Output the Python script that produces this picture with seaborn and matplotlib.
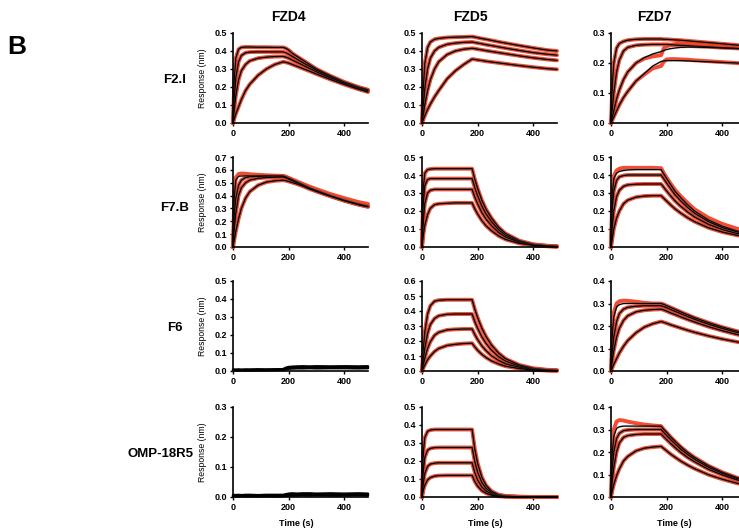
import matplotlib
matplotlib.use("Agg")
import matplotlib.pyplot as plt
import matplotlib.ticker as mticker
import seaborn as sns

# time grid (s) shared by every trace
T = [0, 5, 10, 20, 30, 45, 60, 90, 120, 150, 180, 190, 200, 215, 230, 250, 275, 300, 350, 400, 450, 485]

antibodies = ["F2.I", "F7.B", "F6", "OMP-18R5"]
receptors = ["FZD4", "FZD5", "FZD7"]
y_max = [[0.5, 0.5, 0.3], [0.7, 0.5, 0.5], [0.5, 0.6, 0.4], [0.3, 0.5, 0.4]]

# fitted curves (black), one list per concentration
fzd4_f2i = [
    [0, 0.25, 0.36, 0.41, 0.42, 0.422, 0.422, 0.421, 0.421, 0.42, 0.42, 0.415, 0.405, 0.385, 0.37, 0.35, 0.325, 0.30, 0.262, 0.228, 0.200, 0.185],
    [0, 0.14, 0.25, 0.34, 0.375, 0.39, 0.394, 0.395, 0.395, 0.395, 0.395, 0.39, 0.382, 0.368, 0.354, 0.336, 0.315, 0.293, 0.257, 0.224, 0.197, 0.182],
    [0, 0.08, 0.15, 0.24, 0.29, 0.325, 0.345, 0.36, 0.366, 0.369, 0.37, 0.366, 0.36, 0.348, 0.337, 0.322, 0.303, 0.284, 0.25, 0.22, 0.193, 0.178],
    [0, 0.025, 0.05, 0.09, 0.13, 0.18, 0.215, 0.265, 0.30, 0.325, 0.34, 0.337, 0.333, 0.324, 0.315, 0.303, 0.288, 0.272, 0.242, 0.214, 0.188, 0.172],
]
fzd5_f2i = [
    [0, 0.2, 0.33, 0.42, 0.45, 0.465, 0.47, 0.475, 0.477, 0.478, 0.48, 0.477, 0.474, 0.469, 0.465, 0.459, 0.451, 0.444, 0.43, 0.417, 0.405, 0.40],
    [0, 0.1, 0.19, 0.3, 0.36, 0.4, 0.42, 0.437, 0.444, 0.448, 0.45, 0.447, 0.444, 0.44, 0.435, 0.43, 0.423, 0.416, 0.403, 0.391, 0.382, 0.377],
    [0, 0.05, 0.1, 0.18, 0.24, 0.3, 0.34, 0.38, 0.4, 0.41, 0.415, 0.413, 0.41, 0.406, 0.402, 0.397, 0.391, 0.385, 0.373, 0.362, 0.353, 0.348],
    [0, 0.02, 0.04, 0.075, 0.105, 0.145, 0.18, 0.245, 0.29, 0.325, 0.355, 0.353, 0.35, 0.347, 0.343, 0.339, 0.334, 0.329, 0.319, 0.31, 0.302, 0.298],
]
fzd7_f2i = [
    [0, 0.13, 0.2, 0.25, 0.265, 0.272, 0.276, 0.279, 0.28, 0.28, 0.28, 0.279, 0.279, 0.278, 0.277, 0.276, 0.274, 0.272, 0.268, 0.264, 0.26, 0.257],
    [0, 0.05, 0.1, 0.17, 0.21, 0.24, 0.252, 0.259, 0.261, 0.262, 0.262, 0.262, 0.262, 0.261, 0.26, 0.259, 0.258, 0.256, 0.254, 0.251, 0.249, 0.247],
    [0, 0.02, 0.04, 0.08, 0.11, 0.145, 0.17, 0.2, 0.218, 0.23, 0.238, 0.242, 0.245, 0.248, 0.25, 0.252, 0.253, 0.253, 0.252, 0.25, 0.248, 0.246],
    [0, 0.01, 0.02, 0.04, 0.06, 0.085, 0.105, 0.14, 0.165, 0.19, 0.205, 0.207, 0.208, 0.208, 0.208, 0.208, 0.207, 0.206, 0.204, 0.202, 0.2, 0.199],
]
fzd7_f2i_red3 = [0, 0.02, 0.04, 0.08, 0.11, 0.145, 0.17, 0.2, 0.215, 0.222, 0.226, 0.25, 0.256, 0.26, 0.263, 0.265, 0.265, 0.264, 0.261, 0.257, 0.253, 0.25]
fzd7_f2i_red4 = [0, 0.01, 0.02, 0.04, 0.06, 0.085, 0.105, 0.14, 0.162, 0.182, 0.19, 0.205, 0.212, 0.213, 0.213, 0.212, 0.211, 0.209, 0.206, 0.203, 0.2, 0.197]

fzd4_f7b = [
    [0, 0.4, 0.52, 0.55, 0.552, 0.553, 0.553, 0.553, 0.553, 0.552, 0.552, 0.545, 0.535, 0.52, 0.505, 0.485, 0.46, 0.44, 0.4, 0.365, 0.335, 0.318],
    [0, 0.25, 0.38, 0.48, 0.52, 0.54, 0.547, 0.55, 0.551, 0.551, 0.551, 0.544, 0.534, 0.519, 0.504, 0.484, 0.459, 0.438, 0.398, 0.363, 0.333, 0.316],
    [0, 0.15, 0.26, 0.4, 0.46, 0.5, 0.52, 0.535, 0.54, 0.543, 0.545, 0.538, 0.528, 0.514, 0.5, 0.48, 0.456, 0.435, 0.396, 0.361, 0.331, 0.314],
    [0, 0.06, 0.12, 0.22, 0.3, 0.38, 0.43, 0.48, 0.505, 0.515, 0.52, 0.516, 0.51, 0.5, 0.49, 0.474, 0.452, 0.432, 0.395, 0.36, 0.33, 0.313],
]
fzd4_f7b_red1 = [0, 0.42, 0.54, 0.568, 0.572, 0.57, 0.566, 0.562, 0.558, 0.555, 0.553, 0.547, 0.538, 0.524, 0.51, 0.492, 0.47, 0.45, 0.412, 0.38, 0.35, 0.335]
fzd5_f7b = [
    [0, 0.33, 0.41, 0.43, 0.433, 0.435, 0.435, 0.435, 0.435, 0.435, 0.435, 0.375, 0.325, 0.26, 0.21, 0.16, 0.11, 0.075, 0.035, 0.015, 0.007, 0.004],
    [0, 0.25, 0.34, 0.375, 0.38, 0.38, 0.38, 0.38, 0.38, 0.38, 0.38, 0.328, 0.284, 0.227, 0.184, 0.14, 0.096, 0.065, 0.03, 0.013, 0.006, 0.003],
    [0, 0.15, 0.24, 0.3, 0.315, 0.32, 0.32, 0.32, 0.32, 0.32, 0.32, 0.276, 0.239, 0.191, 0.155, 0.118, 0.081, 0.055, 0.026, 0.011, 0.005, 0.003],
    [0, 0.07, 0.12, 0.18, 0.215, 0.235, 0.24, 0.243, 0.245, 0.245, 0.245, 0.211, 0.183, 0.147, 0.118, 0.09, 0.062, 0.042, 0.02, 0.009, 0.004, 0.002],
]
fzd7_f7b = [
    [0, 0.3, 0.38, 0.41, 0.42, 0.425, 0.428, 0.43, 0.43, 0.43, 0.43, 0.405, 0.38, 0.345, 0.31, 0.275, 0.235, 0.2, 0.15, 0.115, 0.09, 0.077],
    [0, 0.22, 0.31, 0.37, 0.39, 0.397, 0.4, 0.4, 0.4, 0.4, 0.4, 0.378, 0.355, 0.322, 0.29, 0.257, 0.22, 0.188, 0.141, 0.108, 0.085, 0.072],
    [0, 0.12, 0.2, 0.28, 0.315, 0.337, 0.345, 0.349, 0.35, 0.35, 0.35, 0.331, 0.311, 0.283, 0.256, 0.227, 0.195, 0.167, 0.126, 0.097, 0.076, 0.065],
    [0, 0.05, 0.1, 0.16, 0.2, 0.24, 0.26, 0.277, 0.283, 0.285, 0.285, 0.27, 0.255, 0.233, 0.212, 0.189, 0.163, 0.141, 0.107, 0.083, 0.066, 0.057],
]
fzd7_f7b_red1 = [0, 0.31, 0.395, 0.425, 0.435, 0.44, 0.44, 0.44, 0.44, 0.44, 0.438, 0.41, 0.385, 0.35, 0.318, 0.283, 0.245, 0.21, 0.162, 0.128, 0.103, 0.09]

fzd4_f6_noise = [
    [0.004, 0.006, 0.005, 0.006, 0.005, 0.006, 0.005, 0.007, 0.006, 0.007, 0.008, 0.014, 0.017, 0.019, 0.02, 0.021, 0.02, 0.022, 0.021, 0.022, 0.021, 0.022],
    [0.002, 0.003, 0.004, 0.003, 0.004, 0.003, 0.004, 0.004, 0.005, 0.005, 0.006, 0.01, 0.013, 0.014, 0.015, 0.015, 0.016, 0.015, 0.016, 0.016, 0.015, 0.016],
    [0.006, 0.008, 0.007, 0.008, 0.007, 0.008, 0.008, 0.009, 0.008, 0.009, 0.01, 0.018, 0.022, 0.024, 0.025, 0.026, 0.025, 0.026, 0.025, 0.026, 0.025, 0.026],
]
fzd5_f6 = [
    [0, 0.15, 0.26, 0.38, 0.435, 0.465, 0.472, 0.475, 0.475, 0.475, 0.475, 0.41, 0.355, 0.285, 0.23, 0.172, 0.12, 0.082, 0.04, 0.018, 0.008, 0.005],
    [0, 0.08, 0.15, 0.25, 0.31, 0.35, 0.368, 0.378, 0.38, 0.38, 0.38, 0.328, 0.284, 0.228, 0.184, 0.138, 0.096, 0.066, 0.032, 0.014, 0.006, 0.004],
    [0, 0.045, 0.085, 0.15, 0.195, 0.238, 0.258, 0.274, 0.278, 0.28, 0.28, 0.242, 0.209, 0.168, 0.136, 0.101, 0.071, 0.048, 0.024, 0.011, 0.005, 0.003],
    [0, 0.02, 0.04, 0.075, 0.1, 0.13, 0.15, 0.17, 0.178, 0.183, 0.185, 0.16, 0.138, 0.111, 0.09, 0.067, 0.047, 0.032, 0.016, 0.007, 0.003, 0.002],
]
fzd7_f6 = [
    [0, 0.17, 0.24, 0.285, 0.295, 0.3, 0.3, 0.3, 0.3, 0.3, 0.3, 0.296, 0.29, 0.282, 0.274, 0.263, 0.25, 0.237, 0.215, 0.195, 0.178, 0.167],
    [0, 0.09, 0.15, 0.22, 0.255, 0.275, 0.283, 0.288, 0.29, 0.29, 0.29, 0.286, 0.281, 0.273, 0.265, 0.255, 0.242, 0.23, 0.208, 0.189, 0.172, 0.162],
    [0, 0.05, 0.09, 0.15, 0.19, 0.225, 0.245, 0.263, 0.27, 0.273, 0.275, 0.271, 0.266, 0.258, 0.251, 0.241, 0.229, 0.218, 0.197, 0.179, 0.163, 0.153],
    [0, 0.015, 0.03, 0.055, 0.08, 0.11, 0.135, 0.17, 0.195, 0.21, 0.22, 0.216, 0.212, 0.205, 0.199, 0.191, 0.181, 0.172, 0.156, 0.142, 0.13, 0.122],
]
fzd7_f6_red1 = [0, 0.18, 0.26, 0.3, 0.31, 0.313, 0.312, 0.308, 0.303, 0.3, 0.3, 0.296, 0.29, 0.282, 0.274, 0.263, 0.25, 0.237, 0.215, 0.195, 0.178, 0.167]

fzd4_omp_noise = [
    [0.004, 0.005, 0.004, 0.005, 0.004, 0.005, 0.004, 0.005, 0.004, 0.005, 0.005, 0.007, 0.008, 0.008, 0.009, 0.008, 0.009, 0.009, 0.008, 0.009, 0.008, 0.009],
    [0.002, 0.003, 0.002, 0.002, 0.003, 0.002, 0.003, 0.002, 0.003, 0.002, 0.003, 0.004, 0.005, 0.005, 0.005, 0.006, 0.005, 0.006, 0.005, 0.005, 0.006, 0.005],
    [0.006, 0.007, 0.006, 0.007, 0.006, 0.007, 0.007, 0.006, 0.007, 0.007, 0.007, 0.009, 0.011, 0.012, 0.011, 0.012, 0.012, 0.011, 0.012, 0.011, 0.012, 0.011],
]
fzd5_omp = [
    [0, 0.25, 0.33, 0.365, 0.372, 0.375, 0.375, 0.375, 0.375, 0.375, 0.375, 0.264, 0.186, 0.11, 0.065, 0.032, 0.013, 0.006, 0.001, 0, 0, 0],
    [0, 0.15, 0.22, 0.26, 0.27, 0.274, 0.275, 0.275, 0.275, 0.275, 0.275, 0.194, 0.137, 0.081, 0.048, 0.024, 0.01, 0.004, 0.001, 0, 0, 0],
    [0, 0.08, 0.13, 0.17, 0.183, 0.188, 0.19, 0.19, 0.19, 0.19, 0.19, 0.134, 0.094, 0.056, 0.033, 0.016, 0.007, 0.003, 0.001, 0, 0, 0],
    [0, 0.04, 0.065, 0.095, 0.108, 0.116, 0.119, 0.12, 0.12, 0.12, 0.12, 0.085, 0.06, 0.035, 0.021, 0.01, 0.004, 0.002, 0, 0, 0, 0],
]
fzd7_omp = [
    [0, 0.2, 0.27, 0.305, 0.312, 0.315, 0.315, 0.315, 0.315, 0.315, 0.315, 0.3, 0.287, 0.266, 0.248, 0.224, 0.198, 0.176, 0.139, 0.11, 0.087, 0.074],
    [0, 0.13, 0.2, 0.26, 0.283, 0.295, 0.298, 0.3, 0.3, 0.3, 0.3, 0.286, 0.273, 0.254, 0.236, 0.213, 0.189, 0.168, 0.132, 0.105, 0.083, 0.071],
    [0, 0.08, 0.13, 0.2, 0.24, 0.265, 0.273, 0.278, 0.28, 0.28, 0.28, 0.267, 0.255, 0.237, 0.22, 0.199, 0.176, 0.157, 0.123, 0.098, 0.077, 0.066],
    [0, 0.03, 0.055, 0.095, 0.125, 0.16, 0.18, 0.205, 0.217, 0.222, 0.225, 0.215, 0.205, 0.19, 0.177, 0.16, 0.142, 0.126, 0.099, 0.079, 0.062, 0.053],
]
fzd7_omp_red1 = [0, 0.22, 0.3, 0.335, 0.342, 0.34, 0.335, 0.328, 0.322, 0.318, 0.315, 0.3, 0.287, 0.266, 0.248, 0.224, 0.198, 0.176, 0.139, 0.11, 0.087, 0.074]

# panels[row][col] -> (fit curves, red data curves)
def with_red(fits, overrides):
    reds = list(fits)
    for k, v in overrides.items():
        reds[k] = v
    return fits, reds

panels = [
    [with_red(fzd4_f2i, {}), with_red(fzd5_f2i, {}), with_red(fzd7_f2i, {2: fzd7_f2i_red3, 3: fzd7_f2i_red4})],
    [with_red(fzd4_f7b, {0: fzd4_f7b_red1}), with_red(fzd5_f7b, {}), with_red(fzd7_f7b, {0: fzd7_f7b_red1})],
    [(fzd4_f6_noise, []), with_red(fzd5_f6, {}), with_red(fzd7_f6, {0: fzd7_f6_red1})],
    [(fzd4_omp_noise, []), with_red(fzd5_omp, {}), with_red(fzd7_omp, {0: fzd7_omp_red1})],
]

sns.set_style("ticks")
plt.rcParams['font.family'] = ['Liberation Sans', 'DejaVu Sans']
plt.rcParams['text.color'] = 'black'
plt.rcParams['axes.labelcolor'] = 'black'
plt.rcParams['xtick.color'] = 'black'
plt.rcParams['ytick.color'] = 'black'

W, H = 739, 529
fig = plt.figure(figsize=(W / 100, H / 100), dpi=100)

col_x = [233, 422, 611]
row_top = [33, 157, 281, 407]
ax_w, ax_h = 135, 90
RED = "#f2381c"

for r in range(4):
    for c in range(3):
        ax = fig.add_axes([col_x[c] / W, 1 - (row_top[r] + ax_h) / H, ax_w / W, ax_h / H])
        fits, reds = panels[r][c]
        if len(reds) == 0:
            # binding not detected: only a noisy baseline
            for tr in fits:
                sns.lineplot(x=T, y=tr, ax=ax, color="black", lw=1.8, estimator=None, sort=False)
        else:
            for tr in reds:
                sns.lineplot(x=T, y=tr, ax=ax, color=RED, lw=2.8, alpha=0.9, estimator=None, sort=False)
            for tr in fits:
                sns.lineplot(x=T, y=tr, ax=ax, color="#777777", lw=1.7, alpha=0.3, estimator=None, sort=False)
                sns.lineplot(x=T, y=tr, ax=ax, color="black", lw=0.9, estimator=None, sort=False)
        for ln in ax.lines:
            ln.set_clip_on(False)

        ax.set_xlim(0, 485)
        ax.set_ylim(0, y_max[r][c])
        ax.set_xticks([0, 200, 400])
        ax.yaxis.set_major_locator(mticker.MultipleLocator(0.1))
        ax.yaxis.set_major_formatter(mticker.FormatStrFormatter('%.1f'))
        ax.tick_params(length=2.5, width=1, pad=1.5, labelsize=6.5, color="black", labelcolor="black")
        for lab in ax.get_xticklabels() + ax.get_yticklabels():
            lab.set_fontweight("bold")
        for s in ["top", "right"]:
            ax.spines[s].set_visible(False)
        for s in ["left", "bottom"]:
            ax.spines[s].set_linewidth(1.2)
            ax.spines[s].set_color("black")
        ax.set_xlabel("")
        ax.set_ylabel("")
        if c == 0:
            ax.set_ylabel("Response (nm)", fontsize=6.2, color="black")
            ax.yaxis.set_label_coords(-0.19, 0.5)
        if r == 3:
            ax.set_xlabel("Time (s)", fontsize=6.5, fontweight="bold", color="black")
            ax.xaxis.set_label_coords(0.47, -0.25)

fig.text(17 / W, 1 - 47 / H, "B", fontsize=19, fontweight="bold", ha="center", va="center")
for name, x in zip(receptors, [288, 470, 654]):
    fig.text(x / W, 1 - 17 / H, name, fontsize=10, fontweight="bold", ha="center", va="center")
for name, (x, y) in zip(antibodies, [(175, 80), (175, 208), (175, 328), (160, 454)]):
    fig.text(x / W, 1 - y / H, name, fontsize=9.5, fontweight="bold", ha="center", va="center")

fig.savefig("out.png", dpi=100)
